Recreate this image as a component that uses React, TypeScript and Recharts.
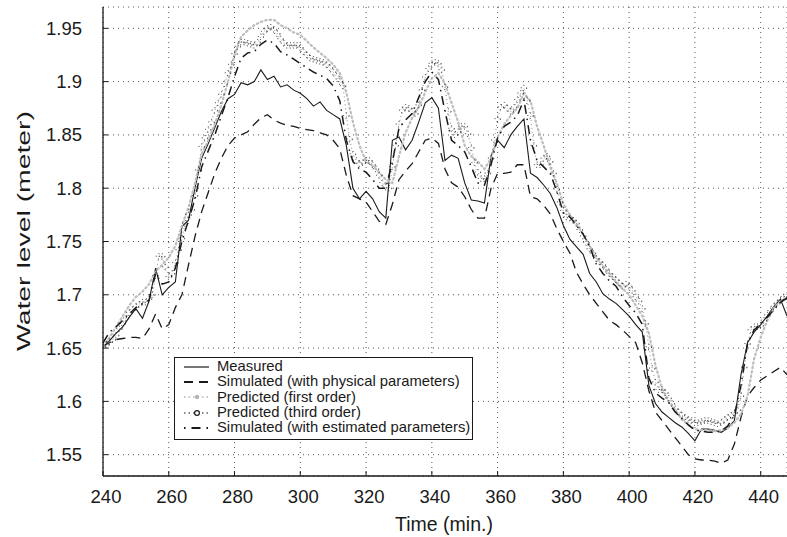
import React from "react";
import { LineChart, Line, XAxis, YAxis, CartesianGrid } from "recharts";

const FONT = '"Liberation Sans", Arial, Helvetica, sans-serif';

// sampling: most series every 2 min, third-order prediction every minute
const times2 = Array.from({ length: 105 }, (_, i) => 240 + i * 2);
const times1 = Array.from({ length: 209 }, (_, i) => 240 + i);

const X_TICKS = [240, 260, 280, 300, 320, 340, 360, 380, 400, 420, 440];
const Y_TICKS = [1.55, 1.6, 1.65, 1.7, 1.75, 1.8, 1.85, 1.9, 1.95];

const measured = [
  1.651, 1.657, 1.664, 1.67, 1.679, 1.687, 1.678, 1.694, 1.725, 1.7,
  1.707, 1.712, 1.764, 1.77, 1.801, 1.828, 1.842, 1.857, 1.872, 1.884,
  1.888, 1.899, 1.897, 1.9, 1.911, 1.902, 1.905, 1.895, 1.897, 1.892,
  1.889, 1.884, 1.877, 1.881, 1.873, 1.869, 1.865, 1.84, 1.8, 1.79,
  1.797, 1.79, 1.778, 1.772, 1.845, 1.848, 1.836, 1.845, 1.862, 1.88,
  1.885, 1.875, 1.826, 1.831, 1.828, 1.805, 1.789, 1.788, 1.786, 1.83,
  1.845, 1.838, 1.85, 1.858, 1.865, 1.814, 1.81, 1.803, 1.795, 1.782,
  1.765, 1.752, 1.745, 1.738, 1.72, 1.712, 1.701, 1.696, 1.692, 1.686,
  1.68, 1.672, 1.665, 1.615, 1.598, 1.59, 1.585, 1.58, 1.576, 1.57,
  1.563, 1.574, 1.574, 1.573, 1.571, 1.575, 1.582, 1.625, 1.655, 1.665,
  1.672, 1.68, 1.689, 1.696, 1.68,
];

const simPhysical = [
  1.652, 1.655, 1.658, 1.659, 1.66, 1.66, 1.659, 1.668, 1.682, 1.668,
  1.672, 1.688, 1.7, 1.728, 1.755, 1.778, 1.796, 1.814, 1.828, 1.84,
  1.847, 1.85, 1.853, 1.86, 1.866, 1.869, 1.864, 1.861, 1.859, 1.858,
  1.856, 1.855, 1.854, 1.852, 1.85, 1.845, 1.837, 1.812, 1.793, 1.79,
  1.787, 1.778, 1.769, 1.766, 1.785, 1.808, 1.816, 1.823, 1.834, 1.845,
  1.847, 1.842, 1.818, 1.805, 1.801, 1.792, 1.78, 1.772, 1.772, 1.8,
  1.814, 1.814, 1.815, 1.822, 1.822, 1.792, 1.79, 1.784, 1.776, 1.762,
  1.75, 1.739, 1.721, 1.71, 1.7, 1.692, 1.684, 1.676, 1.672, 1.667,
  1.661, 1.655, 1.636, 1.61, 1.59, 1.582, 1.574, 1.566, 1.558, 1.55,
  1.546, 1.545, 1.545, 1.544, 1.542, 1.545, 1.56, 1.585, 1.605, 1.613,
  1.62, 1.624, 1.628, 1.632, 1.625,
];

const predFirst = [
  1.652, 1.66, 1.67, 1.68, 1.69, 1.698, 1.703, 1.71, 1.722, 1.728,
  1.735, 1.746, 1.765, 1.782, 1.805, 1.832, 1.845, 1.86, 1.878, 1.9,
  1.925, 1.942, 1.948, 1.953, 1.956, 1.958, 1.958, 1.953, 1.95, 1.946,
  1.944, 1.938, 1.932, 1.927, 1.922, 1.916, 1.908, 1.89, 1.862, 1.84,
  1.825, 1.821, 1.815, 1.808, 1.805, 1.83, 1.852, 1.866, 1.876, 1.89,
  1.903, 1.908, 1.898, 1.88, 1.862, 1.84, 1.83, 1.825, 1.818, 1.828,
  1.848, 1.86, 1.868, 1.875, 1.889, 1.882, 1.858, 1.84, 1.82, 1.805,
  1.785, 1.775, 1.766, 1.757, 1.746, 1.735, 1.727, 1.72, 1.712, 1.706,
  1.7, 1.69, 1.68, 1.664, 1.634, 1.612, 1.6, 1.592, 1.583, 1.578,
  1.574, 1.573, 1.573, 1.572, 1.573, 1.575, 1.58, 1.588, 1.605, 1.64,
  1.66, 1.676, 1.688, 1.694, 1.697,
];

const simEstimated = [
  1.655, 1.665, 1.67, 1.676, 1.682, 1.688, 1.692, 1.695, 1.72, 1.71,
  1.712, 1.725, 1.75, 1.77, 1.79, 1.82, 1.835, 1.85, 1.868, 1.885,
  1.905, 1.922, 1.927, 1.928, 1.935, 1.939, 1.936, 1.928, 1.925, 1.921,
  1.917, 1.913, 1.909, 1.906, 1.903, 1.896, 1.882, 1.845, 1.825, 1.818,
  1.815, 1.808, 1.8, 1.8, 1.825, 1.856, 1.864, 1.87, 1.885, 1.9,
  1.909, 1.902, 1.872, 1.845, 1.84, 1.834, 1.82, 1.805, 1.803, 1.822,
  1.847, 1.858, 1.862, 1.868, 1.883, 1.845, 1.826, 1.82, 1.814, 1.797,
  1.777, 1.773, 1.765, 1.757, 1.745, 1.729, 1.72, 1.713, 1.708, 1.698,
  1.69, 1.683, 1.672, 1.622, 1.608, 1.603, 1.599, 1.59, 1.584, 1.578,
  1.573, 1.572, 1.571, 1.571, 1.572, 1.577, 1.587, 1.615, 1.654, 1.667,
  1.673, 1.679, 1.686, 1.693, 1.697,
];

const predThird = [
  1.652, 1.653, 1.656, 1.658, 1.662, 1.668, 1.673, 1.678, 1.683, 1.686,
  1.689, 1.691, 1.693, 1.693, 1.696, 1.7, 1.718, 1.736, 1.736, 1.726,
  1.717, 1.72, 1.73, 1.742, 1.753, 1.767, 1.775, 1.78, 1.793, 1.817,
  1.839, 1.847, 1.855, 1.862, 1.873, 1.88, 1.888, 1.898, 1.908, 1.916,
  1.926, 1.933, 1.937, 1.937, 1.936, 1.935, 1.934, 1.937, 1.942, 1.947,
  1.95, 1.951, 1.949, 1.945, 1.94, 1.936, 1.934, 1.934, 1.934, 1.934,
  1.932, 1.928, 1.925, 1.922, 1.921, 1.92, 1.919, 1.918, 1.916, 1.913,
  1.909, 1.905, 1.9, 1.896, 1.868, 1.846, 1.832, 1.826, 1.823, 1.824,
  1.826, 1.826, 1.822, 1.818, 1.812, 1.805, 1.801, 1.8, 1.82, 1.84,
  1.86, 1.873, 1.876, 1.875, 1.872, 1.87, 1.878, 1.892, 1.904, 1.912,
  1.917, 1.918, 1.917, 1.911, 1.895, 1.872, 1.856, 1.85, 1.853, 1.858,
  1.858, 1.851, 1.838, 1.824, 1.815, 1.809, 1.809, 1.814, 1.828, 1.845,
  1.865, 1.876, 1.878, 1.875, 1.872, 1.876, 1.883, 1.889, 1.894, 1.882,
  1.868, 1.84, 1.822, 1.822, 1.828, 1.83, 1.825, 1.814, 1.799, 1.787,
  1.779, 1.773, 1.772, 1.77, 1.767, 1.761, 1.755, 1.749, 1.743, 1.739,
  1.734, 1.731, 1.728, 1.724, 1.72, 1.717, 1.714, 1.711, 1.708, 1.71,
  1.708, 1.704, 1.698, 1.694, 1.687, 1.673, 1.651, 1.631, 1.618, 1.611,
  1.611, 1.608, 1.603, 1.598, 1.593, 1.59, 1.587, 1.585, 1.583, 1.582,
  1.58, 1.58, 1.581, 1.582, 1.582, 1.581, 1.58, 1.579, 1.58, 1.583,
  1.585, 1.587, 1.589, 1.592, 1.605, 1.632, 1.654, 1.667, 1.67, 1.67,
  1.671, 1.676, 1.681, 1.685, 1.689, 1.692, 1.695, 1.698, 1.698,
];

const rows2 = times2.map((t, i) => ({
  t,
  measured: measured[i],
  simPhysical: simPhysical[i],
  predFirst: predFirst[i],
  simEstimated: simEstimated[i],
}));
const rows1 = times1.map((t, i) => ({ t, predThird: predThird[i] }));

const INK = "#1a1a1a";

const XTick = (props: any) => {
  const { x, y, payload } = props;
  return (
    <g>
      <line x1={x} x2={x} y1={y} y2={y - 5} stroke={INK} />
      <text
        x={x + 3}
        y={y + 20}
        textAnchor="middle"
        dominantBaseline="central"
        fontSize={18.5}
        fontFamily={FONT}
        fill={INK}
      >
        {payload.value}
      </text>
    </g>
  );
};

const TopTick = (props: any) => {
  const { x, y } = props;
  return <line x1={x} x2={x} y1={y} y2={y + 5} stroke={INK} />;
};

const YTick = (props: any) => {
  const { x, y, payload } = props;
  return (
    <g>
      <line x1={x} x2={x + 5} y1={y} y2={y} stroke={INK} />
      <text
        x={x - 21}
        y={y}
        textAnchor="end"
        dominantBaseline="central"
        fontSize={18.5}
        fontFamily={FONT}
        fill={INK}
      >
        {String(payload.value)}
      </text>
    </g>
  );
};

const legendItems = [
  { label: "Measured", kind: "solid" },
  { label: "Simulated (with physical parameters)", kind: "dashed" },
  { label: "Predicted (first order)", kind: "first" },
  { label: "Predicted (third order)", kind: "third" },
  { label: "Simulated (with estimated parameters)", kind: "dashdot" },
];

function LegendSymbol({ kind }: { kind: string }) {
  return (
    <svg width={28} height={12} style={{ display: "block" }}>
      {kind === "solid" && <line x1={1} x2={26} y1={6} y2={6} stroke={INK} strokeWidth={1.2} />}
      {kind === "dashed" && (
        <line x1={1} x2={26} y1={6} y2={6} stroke={INK} strokeWidth={1.8} strokeDasharray="9 6" />
      )}
      {kind === "first" && (
        <g>
          <line x1={1} x2={26} y1={6} y2={6} stroke="#b5b5b5" strokeWidth={1.6} strokeDasharray="1.5 3" />
          <circle cx={14} cy={6} r={2.2} fill="#b5b5b5" />
        </g>
      )}
      {kind === "third" && (
        <g>
          <line x1={1} x2={26} y1={6} y2={6} stroke={INK} strokeWidth={1.2} strokeDasharray="1.5 3" />
          <circle cx={14} cy={6} r={2.4} fill="#fff" stroke={INK} strokeWidth={1.2} />
        </g>
      )}
      {kind === "dashdot" && (
        <line x1={1} x2={26} y1={6} y2={6} stroke={INK} strokeWidth={1.8} strokeDasharray="1.5 6 9 6" />
      )}
    </svg>
  );
}

export default function App() {
  return (
    <div
      style={{
        position: "absolute",
        left: 0,
        top: 0,
        width: 787,
        height: 537,
        background: "#fff",
        overflow: "hidden",
        fontFamily: FONT,
      }}
    >
      <LineChart width={787} height={537} margin={{ top: 7, right: 0, bottom: 0, left: 0 }}>
        <CartesianGrid stroke="#555" strokeDasharray="1 4" />
        <XAxis
          dataKey="t"
          type="number"
          domain={[240, 448]}
          ticks={X_TICKS}
          allowDataOverflow
          height={61}
          tickSize={0}
          tickMargin={0}
          tickLine={false}
          axisLine={{ stroke: INK, strokeWidth: 1.3 }}
          tick={<XTick />}
          label={{
            content: (p: any) => {
              const vb = p.viewBox || { x: 103, y: 476, width: 684 };
              return (
                <text
                  x={vb.x + vb.width / 2 - 1}
                  y={vb.y + 48}
                  textAnchor="middle"
                  dominantBaseline="central"
                  fontSize={19.5}
                  fontFamily={FONT}
                  fill={INK}
                >
                  Time (min.)
                </text>
              );
            },
          }}
        />
        <XAxis
          xAxisId="top"
          dataKey="t"
          type="number"
          orientation="top"
          domain={[240, 448]}
          ticks={X_TICKS}
          height={0}
          tickSize={0}
          tickMargin={0}
          tickLine={false}
          axisLine={{ stroke: INK, strokeWidth: 1.3 }}
          tick={<TopTick />}
        />
        <YAxis
          type="number"
          domain={[1.53, 1.97]}
          ticks={Y_TICKS}
          allowDataOverflow
          width={103}
          tickSize={0}
          tickMargin={0}
          tickLine={false}
          axisLine={{ stroke: INK, strokeWidth: 1.3 }}
          tick={<YTick />}
          label={{
            content: () => (
              <text
                x={23}
                y={231}
                transform="rotate(-90 23 231)"
                textAnchor="middle"
                dominantBaseline="central"
                fontSize={19}
                textLength={240}
                lengthAdjust="spacingAndGlyphs"
                fontFamily={FONT}
                fill={INK}
              >
                Water level (meter)
              </text>
            ),
          }}
        />
        <Line
          data={rows2}
          dataKey="measured"
          stroke={INK}
          strokeWidth={1.1}
          dot={false}
          activeDot={false}
          isAnimationActive={false}
        />
        <Line
          data={rows2}
          dataKey="simPhysical"
          stroke={INK}
          strokeWidth={1.3}
          strokeDasharray="9 6"
          dot={false}
          activeDot={false}
          isAnimationActive={false}
        />
        <Line
          data={rows2}
          dataKey="predFirst"
          stroke="#bdbdbd"
          strokeWidth={2.2}
          strokeDasharray="1.5 3"
          strokeLinecap="round"
          dot={false}
          activeDot={false}
          isAnimationActive={false}
        />
        <Line
          data={rows1}
          dataKey="predThird"
          stroke="#555"
          strokeWidth={0.7}
          strokeDasharray="1 3"
          dot={{ r: 2.7, stroke: INK, strokeWidth: 1, fill: "none" }}
          activeDot={false}
          isAnimationActive={false}
        />
        <Line
          data={rows2}
          dataKey="simEstimated"
          stroke={INK}
          strokeWidth={1.5}
          strokeDasharray="9 5 1.5 5"
          dot={false}
          activeDot={false}
          isAnimationActive={false}
        />
      </LineChart>
      <div
        style={{
          position: "absolute",
          left: 174,
          top: 357,
          width: 297,
          height: 80,
          border: `1.3px solid ${INK}`,
          background: "#fff",
          paddingTop: 1,
          boxSizing: "content-box",
        }}
      >
        {legendItems.map((item) => (
          <div
            key={item.label}
            style={{ display: "flex", alignItems: "center", height: 15.3 }}
          >
            <div style={{ width: 28, marginLeft: 8, marginRight: 6 }}>
              <LegendSymbol kind={item.kind} />
            </div>
            <span style={{ fontSize: 14.8, color: INK, lineHeight: "15px", whiteSpace: "nowrap" }}>
              {item.label}
            </span>
          </div>
        ))}
      </div>
    </div>
  );
}
